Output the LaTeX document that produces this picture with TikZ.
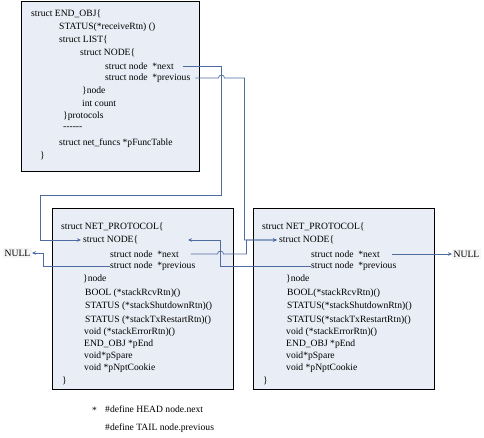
\documentclass[tikz,border=0pt]{standalone}
\usepackage{fontspec}
\setmainfont{Liberation Serif}
\usetikzlibrary{arrows.meta}
\usetikzlibrary{calc}
\definecolor{linkblue}{RGB}{79,108,160}
\definecolor{boxfill}{RGB}{233,237,246}
\tikzset{
  struct box/.style = {draw=black, line width=0.8pt, fill=boxfill}
}
\tikzset{
  code/.style = {anchor=west, inner sep=0pt, font=\fontsize{9.6}{11}\selectfont}
}
\tikzset{
  link/.style = {draw=linkblue, line width=0.7pt}
}
\tikzset{
  null box/.style = {code, fill=gray!8, inner sep=1.5pt}
}
\tikzset{
    >={Stealth[length=4pt,width=3.5pt]}
}

\begin{document}
\begin{tikzpicture}[x=1pt, y=-1pt]
  \useasboundingbox (0,0) rectangle (484,438);

  \draw[struct box] (21,1) rectangle (199,171);
  \draw[struct box] (52,208) rectangle (233,389);
  \draw[struct box] (253,208) rectangle (434,389);

  % END_OBJ
  \node[code] (t1) at (31,14) {struct END\_OBJ\{};
  \node[code] (t2) at (59,27) {STATUS(*receiveRtn) ()};
  \node[code] (t3) at (59,40) {struct LIST\{};
  \node[code] (tnode) at (80,53) {struct NODE\{};
  \node[code] (tnext) at (105,66) {struct node\ \ *next};
  \node[code] (tprev) at (105,78) {struct node\ \ *previous};
  \node[code] (t4) at (82,91) {\}node};
  \node[code] (t5) at (82,103) {int count};
  \node[code] (t6) at (63,116) {\}protocols};
  \node[code] (t7) at (63,128) {-{}-{}-{}-{}-{}-};
  \node[code] (t8) at (59,143) {struct net\_funcs *pFuncTable};
  \node[code] (t9) at (40,156) {\}};

  % left NET_PROTOCOL
  \node[code] (l1) at (61,227) {struct NET\_PROTOCOL\{};
  \node[code] (lnode) at (83,240) {struct NODE\{};
  \node[code] (lnext) at (110,254) {struct node\ \ *next};
  \node[code] (lprev) at (110,266) {struct node\ \ *previous};
  \node[code] (l2) at (83,279) {\}node};
  \node[code] (l3) at (85,293) {BOOL (*stackRcvRtn)()};
  \node[code] (l4) at (85,306) {STATUS (*stackShutdownRtn)()};
  \node[code] (l5) at (85,320) {STATUS (*stackTxRestartRtn)()};
  \node[code] (l6) at (84,332) {void (*stackErrorRtn)()};
  \node[code] (l7) at (84,344) {END\_OBJ *pEnd};
  \node[code] (l8) at (84,356) {void*pSpare};
  \node[code] (l9) at (84,368) {void *pNptCookie};
  \node[code] (l10) at (62,381) {\}};

  % right NET_PROTOCOL
  \node[code] (r1) at (262,227) {struct NET\_PROTOCOL\{};
  \node[code] (rnode) at (279,240) {struct NODE\{};
  \node[code] (rnext) at (311,254) {struct node\ \ *next};
  \node[code] (rprev) at (311,266) {struct node\ \ *previous};
  \node[code] (r2) at (286,279) {\}node};
  \node[code] (r3) at (287,293) {BOOL(*stackRcvRtn)()};
  \node[code] (r4) at (287,306) {STATUS(*stackShutdownRtn)()};
  \node[code] (r5) at (287,320) {STATUS(*stackTxRestartRtn)()};
  \node[code] (r6) at (286,332) {void (*stackErrorRtn)()};
  \node[code] (r7) at (286,344) {END\_OBJ *pEnd};
  \node[code] (r8) at (286,356) {void*pSpare};
  \node[code] (r9) at (286,368) {void *pNptCookie};
  \node[code] (r10) at (263,381) {\}};

  \node[null box] (lnull) at (3,253) {NULL};
  \node[null box] (rnull) at (452,254) {NULL};
  \coordinate (lhead) at (188,240);

  \draw[link,->] ([xshift=9pt]tnext.east) -- (221.5,66) -- (221.5,195)
    -- (40.5,195) |- ([xshift=-2pt]lnode.west);
  \draw[link,->] ([xshift=5pt]tprev.east) -- (218.5,78)
    arc[start angle=180, end angle=360, radius=3] -- (244.5,78)
    |- ([xshift=-2pt]rnode.west);
  \draw[link,->] ([xshift=12pt]lnext.east) -- (217.5,254)
    arc[start angle=180, end angle=360, radius=3] -- (246.5,254)
    |- ([xshift=-2pt]rnode.west);
  \draw[link,->] (rprev.west) -- (220.5,266) |- (lhead);
  \draw[link,->] (lprev.west) -- (43,266) |- (lnull.east);
  \draw[link,->] ([xshift=12pt]rnext.east) -- (rnull.west);

  \node[code] (star) at (92,410) {*};
  \node[code] (head) at (105,409) {\#define HEAD node.next};
  \node[code] (tail) at (105,428) {\#define TAIL node.previous};
\end{tikzpicture}
\end{document}
